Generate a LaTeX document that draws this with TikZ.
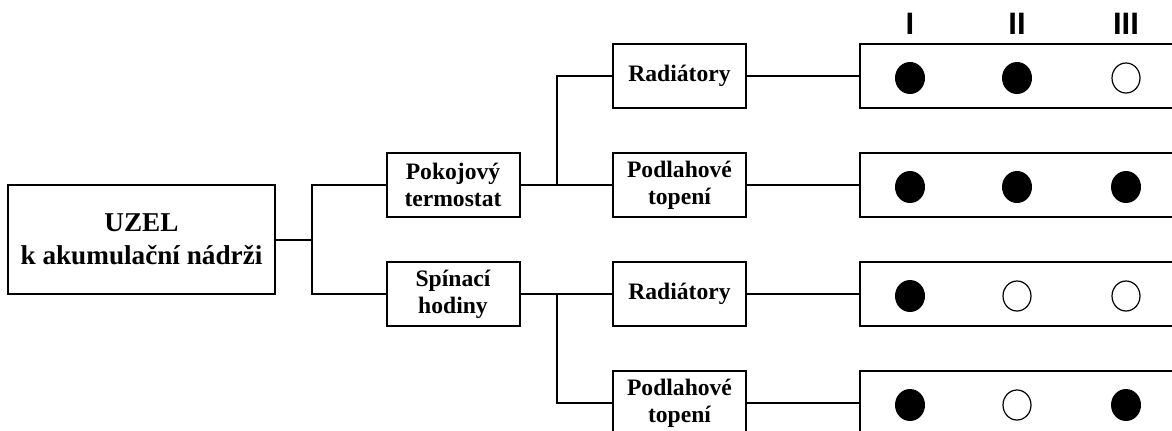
\documentclass[tikz,border=0pt]{standalone}
\usepackage{fontspec}
\setmainfont{Liberation Serif}
\newfontfamily\headfont{Liberation Sans}
\usetikzlibrary{positioning,shapes.geometric}
\tikzset{
  % plain black boxes, Times-like bold labels
  blk/.style      = {rectangle, draw, line width=1pt, align=center, inner sep=2pt,
                     font=\bfseries\fontsize{11.8}{13.6}\selectfont,
                     minimum width=66.5pt, minimum height=32pt},
  row/.style      = {rectangle, draw, line width=1pt, minimum width=180pt, minimum height=32pt},
  wire/.style     = {line width=1pt},
  dotfull/.style  = {ellipse, fill=black, inner sep=0pt, minimum width=15pt, minimum height=16pt},
  dotempty/.style = {ellipse, draw, line width=0.6pt, inner sep=0pt, minimum width=14pt, minimum height=15pt},
  hdr/.style      = {font=\headfont\bfseries\fontsize{15.5}{18}\selectfont, inner sep=0pt},
}

\begin{document}
\begin{tikzpicture}[x=0.5pt, y=-0.5pt]
\clip (0,0) rectangle (1172,430);
% source and control boxes
\node[blk, minimum width=133.5pt, minimum height=54.5pt,
      font=\bfseries\fontsize{13.6}{16.5}\selectfont] (uzel) at (141.5,239.5) {UZEL\\k akumulační nádrži};
\node[blk] (pok)  at (453,185) {Pokojový\\termostat};
\node[blk] (spin) at (453,294) {Spínací\\hodiny};

% heating circuits
\node[blk] (rad1) at (679.5,76)  {Radiátory};
\node[blk] (pod1) at (679.5,185) {Podlahové\\topení};
\node[blk] (rad2) at (679.5,294) {Radiátory};
\node[blk] (pod2) at (679.5,403) {Podlahové\\topení};

% state rows I, II, III
\node[hdr] (h1) at (910,24)  {I};
\node[hdr] (h2) at (1017,24) {II};
\node[hdr] (h3) at (1126,24) {III};
\foreach \r/\y/\a/\b/\c in {1/76/dotfull/dotfull/dotempty, 2/185/dotfull/dotfull/dotfull,
                           3/294/dotfull/dotempty/dotempty, 4/403/dotfull/dotempty/dotfull} {
  \node[row] (s\r) at (1040,\y) {};
  \node[\a] (d\r a) at (910,\y+2)  {};
  \node[\b] (d\r b) at (1017,\y+2) {};
  \node[\c] (d\r c) at (1126,\y+2) {};
}

% connectors
\coordinate (j1) at (312,239.5);
\coordinate (j2) at (557,185);
\coordinate (j3) at (557,294);
\draw[wire] (uzel) -- (j1);
\draw[wire] (pok) -| (j1) |- (spin);
\draw[wire] (pok) -- (pod1);
\draw[wire] (j2) |- (rad1);
\draw[wire] (spin) -- (rad2);
\draw[wire] (j3) |- (pod2);
\foreach \a/\b in {rad1/s1,pod1/s2,rad2/s3,pod2/s4} {\draw[wire] (\a) -- (\b);}
\end{tikzpicture}
\end{document}
